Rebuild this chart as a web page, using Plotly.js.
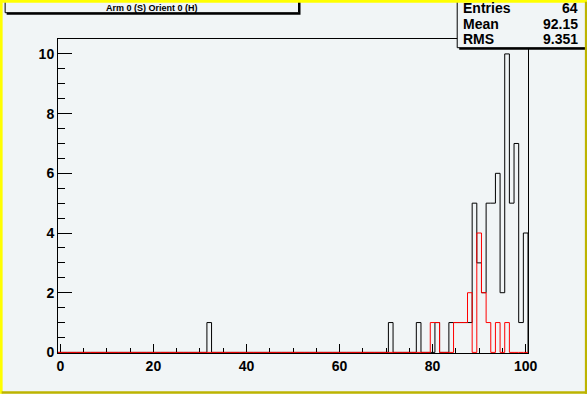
<!DOCTYPE html>
<html>
<head>
<meta charset="utf-8">
<script src="https://cdn.plot.ly/plotly-3.0.1.min.js"></script>
<style>
  html, body { margin: 0; padding: 0; background: #f1f5f6; }
  #plot { position: absolute; left: 0; top: 0; width: 587px; height: 394px; }
</style>
</head>
<body>
<div id="plot"></div>
<script>
// ---- data (bin centres, counts) ----
const blackBins   = [32, 71, 77, 81, 84, 85, 86, 87, 88, 89, 90, 91, 92, 93, 94, 95, 96, 97, 98, 99, 100];
const blackCounts = [ 1,  1,  1,  1,  1,  1,  1,  1,  1,  5,  3,  2,  5,  5,  6,  2, 10,  5,  7,  1,  4];
const redBins     = [80, 81, 85, 86, 87, 88, 90, 91, 92, 94, 96];
const redCounts   = [ 1,  1,  1,  1,  1,  2,  4,  2,  1,  1,  1];
const titleText   = "Arm 0 (S) Orient 0 (H)";
const statLabels  = ["Entries", "Mean", "RMS"];
const statValues  = ["64", "92.15", "9.351"];
const nBins = 101, xLow = -0.5, xHigh = 100.5;

function stepArrays(bins, counts) {
  const full = new Array(nBins).fill(0);
  bins.forEach((b, i) => { full[b] = counts[i]; });
  const xs = [], ys = [];
  for (let i = 0; i <= nBins; i++) {
    xs.push(xLow + i);
    ys.push(i < nBins ? full[i] : 0);
  }
  return {xs, ys};
}
const blk = stepArrays(blackBins, blackCounts);
const red = stepArrays(redBins, redCounts);

const PAD = '#f1f5f6', YEL = '#ffff00', OLV = '#bdb400';
const DW = 587, DH = 394;
const L = 58.3, R = DW - 527.7, T = 39.3, B = DH - 353.3;
const W = DW - L - R, H = DH - T - B;
const X = px => (px - L) / W;
const Y = py => 1 - (py - T) / H;

const tickFont = {family: 'Liberation Sans, Arial, sans-serif', size: 14, weight: 'bold', color: 'black'};
const statFont = {family: 'Liberation Sans, Arial, sans-serif', size: 14, weight: 'bold', color: 'black'};

const traces = [
  {x: blk.xs, y: blk.ys, type: 'scatter', mode: 'lines', line: {shape: 'hv', color: 'black', width: 1}, hoverinfo: 'skip'},
  {x: red.xs, y: red.ys, type: 'scatter', mode: 'lines', line: {shape: 'hv', color: 'red', width: 1}, hoverinfo: 'skip'}
];

const annotations = [
  {xref: 'paper', yref: 'paper', x: X(152), y: Y(8.5), xanchor: 'center', yanchor: 'middle',
   text: titleText, showarrow: false, font: {family: 'Liberation Sans, Arial, sans-serif', size: 9, weight: 'bold', color: 'black'}}
];
const rowsY = [8.5, 24, 39.5];
statLabels.forEach((lab, i) => {
  annotations.push({xref: 'paper', yref: 'paper', x: X(461), y: Y(rowsY[i]), xanchor: 'left', yanchor: 'middle',
    text: lab, showarrow: false, font: statFont});
  annotations.push({xref: 'paper', yref: 'paper', x: X(580), y: Y(rowsY[i]), xanchor: 'right', yanchor: 'middle',
    text: statValues[i], showarrow: false, font: statFont});
});

function rect(x0, y0, x1, y1, fill, lineColor) {
  return {type: 'rect', xref: 'paper', yref: 'paper', layer: 'above',
          x0: X(x0), x1: X(x1), y0: Y(y1), y1: Y(y0), fillcolor: fill,
          line: lineColor ? {color: lineColor, width: 1} : {width: 0}};
}
const shapes = [
  rect(7, 2, 300.5, 15, 'black'),
  rect(5.5, -3, 298.5, 13, PAD, 'black'),
  rect(459, 2, 592, 50, 'black'),
  rect(457, -3, 586, 48, PAD, 'black'),
  // canvas border (highlighted pad)
  rect(0, 0, DW, 3, YEL),
  rect(0, 0, 3, DH, YEL),
  rect(DW - 2.5, 2, DW, DH, OLV),
  rect(2, DH - 2.5, DW, DH, OLV)
];

const layout = {
  width: DW, height: DH,
  margin: {l: L, r: R, t: T, b: B, pad: 0},
  paper_bgcolor: PAD, plot_bgcolor: PAD,
  showlegend: false, hovermode: false,
  xaxis: {
    range: [xLow, xHigh], tick0: 0, dtick: 20, ticks: 'inside', ticklen: 9.4, tickwidth: 1, tickcolor: 'black',
    showline: true, mirror: true, linecolor: 'black', linewidth: 1, showgrid: false, zeroline: false,
    tickfont: tickFont, layer: 'below traces',
    minor: {dtick: 5, tick0: 0, ticks: 'inside', ticklen: 4.7, tickwidth: 1, tickcolor: 'black', showgrid: false}
  },
  yaxis: {
    range: [-0.02, 10.5], tick0: 0, dtick: 2, ticks: 'inside', ticklen: 14, tickwidth: 1, tickcolor: 'black',
    showline: true, mirror: true, linecolor: 'black', linewidth: 1, showgrid: false, zeroline: false,
    tickfont: tickFont, layer: 'below traces',
    minor: {dtick: 0.5, tick0: 0, ticks: 'inside', ticklen: 7, tickwidth: 1, tickcolor: 'black', showgrid: false}
  },
  shapes: shapes,
  annotations: annotations
};

Plotly.newPlot('plot', traces, layout, {staticPlot: true, displayModeBar: false});
</script>
</body>
</html>
